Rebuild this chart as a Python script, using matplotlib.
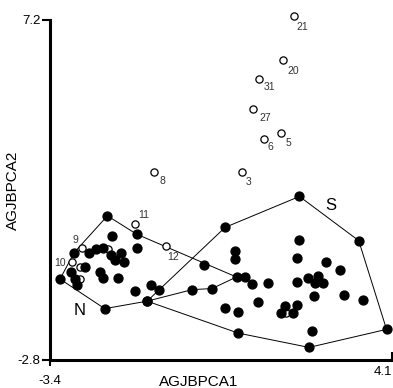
import matplotlib
matplotlib.use("Agg")
import matplotlib.pyplot as plt

plt.rcParams['font.family'] = ['Liberation Sans', 'DejaVu Sans']

# ---- data ----
n_x = [-2.14, -1.50, -2.05, -1.49, -2.87, -2.54, -2.40, -2.24, -2.06, -1.84,
       -1.97, -1.78, -2.64, -2.95, -2.30, -2.24, -1.90, -3.18, -2.85, -2.80,
       -2.20, -1.54, -1.19, -1.00, -1.27, -0.28, 0.15, 0.69]
n_y = [1.44, 0.90, 0.84, 0.49, 0.36, 0.34, 0.47, 0.49, 0.29, 0.35,
       0.14, 0.09, -0.07, -0.21, -0.20, -0.40, -0.40, -0.42, -0.41, -0.60,
       -1.29, -0.77, -0.60, -0.75, -1.07, -0.73, -0.70, -0.36]
n_outline = [17, 4, 0, 1, 27, 26, 25, 24, 20, 17]

s_x = [-1.27, 0.44, 2.07, 3.37, 3.98, 2.28, 0.73, 0.66, 0.66, -0.02,
       2.07, 2.01, 2.66, 2.97, 0.88, 1.02, 1.39, 2.01, 2.25, 2.48,
       2.41, 2.59, 1.17, 2.39, 3.05, 3.47, 0.44, 0.73, 1.75, 2.02,
       1.67, 1.92, 2.35]
s_y = [-1.07, 1.10, 2.01, 0.71, -1.90, -2.43, -2.01, 0.41, 0.17, -0.01,
       0.73, 0.19, 0.07, -0.15, -0.36, -0.56, -0.54, -0.50, -0.40, -0.34,
       -0.54, -0.54, -1.09, -0.93, -0.88, -1.04, -1.26, -1.39, -1.21, -1.19,
       -1.41, -1.42, -1.94]
s_outline = [0, 1, 2, 3, 4, 5, 6, 0]

open_x = [1.96, 1.72, 1.19, 1.06, 1.66, 1.30, 0.82, -1.12, -1.53, -0.86,
          -2.70, -2.92, -2.12, -2.74, -2.74, 1.78]
open_y = [7.32, 6.02, 5.47, 4.57, 3.89, 3.69, 2.74, 2.74, 1.20, 0.55,
          0.49, 0.07, 0.47, -0.07, -0.42, -1.41]
open_labels = ['21', '20', '31', '27', '5', '6', '3', '8', '11', '12',
               '9', '10', '', '', '', '']

group_names = ['N', 'S']
group_label_x = [-2.74, 2.76]
group_label_y = [-1.33, 1.73]

x_ticks = [-3.4, 4.1]
y_ticks = [-2.8, 7.2]
x_label = 'AGJBPCA1'
y_label = 'AGJBPCA2'

# ---- style / layout ----
label_offsets = {'21': (6, -7.7), '20': (7.2, -7.7), '31': (7.2, -6.2),
                 '27': (8.4, -6.5), '5': (5.5, -7.6), '6': (4.6, -5.8),
                 '3': (4.3, -7.2), '8': (6.3, -6.7), '11': (6.3, 6.5),
                 '12': (5.3, -8.1), '9': (-4.8, 6), '10': (-8.4, -0.7)}

fig = plt.figure(figsize=(3.93, 3.88), dpi=100)
ax = fig.add_axes([0.1272, 0.0722, 0.8703, 0.8763])
ax.set_xlim(x_ticks[0], x_ticks[1])
ax.set_ylim(y_ticks[0], y_ticks[1])

# outlines
for xs, ys, idx in ((n_x, n_y, n_outline), (s_x, s_y, s_outline)):
    ax.plot([xs[i] for i in idx], [ys[i] for i in idx], color='black',
            lw=0.7, zorder=1)

# open circles
ax.plot(open_x, open_y, linestyle='none', marker='o', markersize=5.2,
        markerfacecolor='white', markeredgecolor='black',
        markeredgewidth=0.9, zorder=2, clip_on=False)
for x, y, t in zip(open_x, open_y, open_labels):
    if t:
        ax.annotate(t, (x, y), xytext=label_offsets[t],
                    textcoords='offset points', ha='center', va='center',
                    fontsize=7.5, color='#333333', annotation_clip=False)

# filled points
ax.plot(n_x, n_y, linestyle='none', marker='o', markersize=6.4,
        color='black', zorder=3, clip_on=False)
ax.plot(s_x, s_y, linestyle='none', marker='o', markersize=6.4,
        color='black', zorder=3, clip_on=False)

for name, gx, gy in zip(group_names, group_label_x, group_label_y):
    ax.text(gx, gy, name, fontsize=12, ha='center', va='center')

# axes styling
for side in ('top', 'right'):
    ax.spines[side].set_visible(False)
ax.spines['left'].set_linewidth(2.2)
ax.spines['bottom'].set_linewidth(2.2)

ax.set_yticks(y_ticks)
ax.set_yticklabels([f'{v:g}' for v in y_ticks])
ax.tick_params(axis='y', direction='out', length=6, width=1.5, pad=1,
               labelsize=9.5)

ax.xaxis.remove_overlapping_locs = False
ax.set_xticks([x_ticks[0]])
ax.set_xticklabels([f'{x_ticks[0]:g}'])
ax.set_xticks([x_ticks[1]], minor=True)
ax.set_xticklabels([f'{x_ticks[1]:g}'], minor=True)
ax.tick_params(axis='x', which='major', direction='out', length=4,
               width=1.5, pad=7, labelsize=9.5)
ax.tick_params(axis='x', which='minor', direction='in', length=6,
               width=1.5, pad=4, labelsize=9.5)
for lbl in ax.get_xticklabels(minor=True):
    lbl.set_horizontalalignment('right')
for lbl in ax.get_xticklabels():
    lbl.set_horizontalalignment('center')

ax.set_xlabel(x_label, fontsize=11)
ax.xaxis.set_label_coords(0.434, -0.044)
ax.set_ylabel(y_label, fontsize=11)
ax.yaxis.set_label_coords(-0.088, 0.5)

fig.savefig('out.png', dpi=100)
